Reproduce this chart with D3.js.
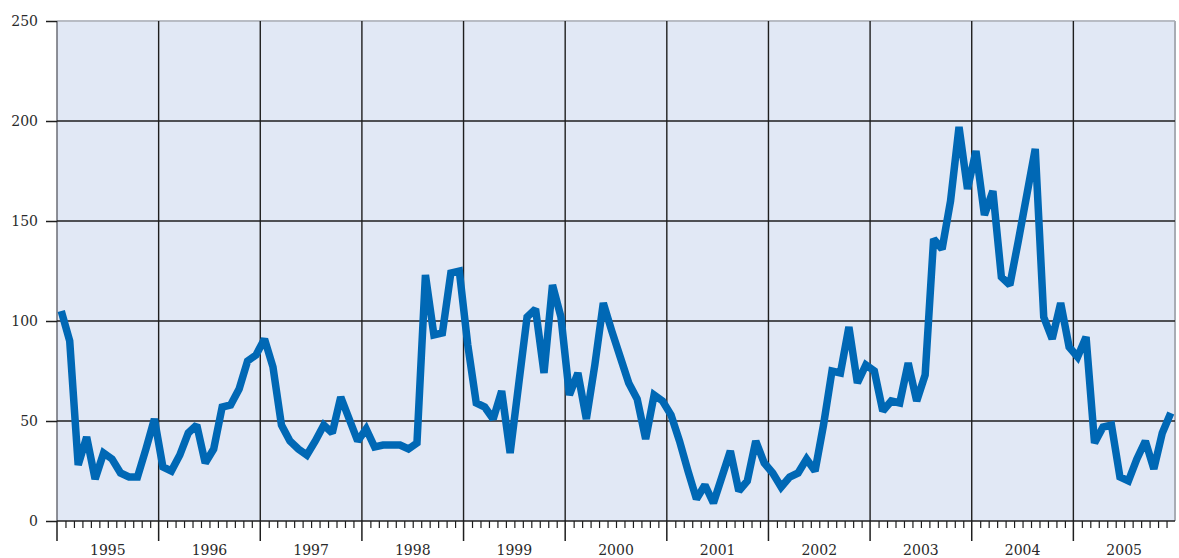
<!DOCTYPE html>
<html>
<head>
<meta charset="utf-8">
<script src="https://cdn.jsdelivr.net/npm/d3@7"></script>
<style>
  body { margin: 0; background: #fff; }
  text { font-family: "DejaVu Serif", serif; }
</style>
</head>
<body>
<svg id="chart"></svg>
<script>
// Data (monthly, Jan 1995 - Dec 2005)
const years = [1995, 1996, 1997, 1998, 1999, 2000, 2001, 2002, 2003, 2004, 2005];
const yTicks = [0, 50, 100, 150, 200, 250];
const values = [
  105, 90, 28, 42, 21, 34, 31, 24, 22, 22, 36, 51,      // 1995
  27, 25, 33, 44, 48, 29, 36, 57, 58, 66, 80, 83,       // 1996
  91, 77, 48, 40, 36, 33, 40, 48, 44, 62, 51, 40,       // 1997
  46, 37, 38, 38, 38, 36, 39, 123, 93, 94, 124, 125,    // 1998
  88, 59, 57, 51, 65, 34, 68, 102, 106, 74, 118, 102,   // 1999
  63, 74, 51, 78, 109, 95, 82, 69, 61, 41, 63, 60,      // 2000
  53, 40, 25, 11, 18, 9, 22, 35, 15, 20, 40, 29,        // 2001
  24, 17, 22, 24, 31, 25, 48, 75, 74, 97, 69, 78,       // 2002
  75, 55, 60, 59, 79, 60, 73, 141, 136, 160, 197, 166,  // 2003
  185, 153, 165, 122, 118, 140, 163, 186, 102, 91, 109, 87, // 2004
  82, 92, 39, 47, 48, 22, 20, 31, 40, 26, 44, 54        // 2005
];

// Dimensions
const W = 1179, H = 558;
const m = {left: 57, right: 4, top: 21, bottom: 37};
const nMonths = years.length * 12;

const svg = d3.select("#chart").attr("width", W).attr("height", H);

const x = d3.scaleLinear().domain([0, nMonths]).range([m.left, W - m.right]);
const y = d3.scaleLinear().domain([0, 250]).range([H - m.bottom, m.top]);

// plot background
svg.append("rect")
   .attr("x", x(0)).attr("y", y(250))
   .attr("width", x(nMonths) - x(0)).attr("height", y(0) - y(250))
   .attr("fill", "#e1e8f5");

// borders top/right/left
svg.append("line").attr("x1", x(0)).attr("x2", x(nMonths)).attr("y1", y(250)).attr("y2", y(250))
   .attr("stroke", "#b8bcc4").attr("stroke-width", 2);
svg.append("line").attr("x1", x(nMonths)).attr("x2", x(nMonths)).attr("y1", y(250)).attr("y2", y(0))
   .attr("stroke", "#a8acb4").attr("stroke-width", 2);
svg.append("line").attr("x1", x(0)).attr("x2", x(0)).attr("y1", y(250)).attr("y2", y(0))
   .attr("stroke", "#6a6d75").attr("stroke-width", 1.5);

// horizontal grid
svg.append("g").selectAll("line")
   .data(yTicks.filter(d => d > 0 && d < 250))
   .enter().append("line")
   .attr("x1", x(0)).attr("x2", x(nMonths))
   .attr("y1", d => y(d)).attr("y2", d => y(d))
   .attr("stroke", "#1e1e1e").attr("stroke-width", 1.4);

// vertical year grid
svg.append("g").selectAll("line")
   .data(d3.range(1, years.length))
   .enter().append("line")
   .attr("x1", d => x(d * 12)).attr("x2", d => x(d * 12))
   .attr("y1", y(250)).attr("y2", y(0))
   .attr("stroke", "#1e1e1e").attr("stroke-width", 1.4);

// y axis
const yAxis = svg.append("g")
   .attr("transform", `translate(${m.left},0)`)
   .call(d3.axisLeft(y).tickValues(yTicks).tickSize(11).tickPadding(8));
yAxis.select(".domain").remove();
yAxis.selectAll(".tick line").attr("stroke", "#1e1e1e").attr("stroke-width", 1.5);
yAxis.selectAll(".tick text").attr("font-size", 14).attr("fill", "#2a2a2a")
   .style("font-family", "DejaVu Serif, serif");

// x axis: month ticks
const xAxis = svg.append("g")
   .attr("transform", `translate(0,${y(0)})`)
   .call(d3.axisBottom(x).tickValues(d3.range(0, nMonths).filter(d => d % 12 !== 0)).tickSize(7).tickFormat(""));
xAxis.select(".domain").attr("stroke", "#1e1e1e").attr("stroke-width", 1.5).attr("d", `M${x(0)},0H${x(nMonths)}`);
xAxis.selectAll(".tick line").attr("stroke", "#1e1e1e").attr("stroke-width", 1.2);

// year ticks
svg.append("g").selectAll("line")
   .data(d3.range(0, years.length))
   .enter().append("line")
   .attr("x1", d => x(d * 12)).attr("x2", d => x(d * 12))
   .attr("y1", y(0)).attr("y2", y(0) + 20)
   .attr("stroke", "#1e1e1e").attr("stroke-width", 1.5);

// year labels
svg.append("g").selectAll("text")
   .data(years)
   .enter().append("text")
   .attr("x", (d, i) => x(i * 12 + 6))
   .attr("y", H - 3)
   .attr("text-anchor", "middle")
   .attr("font-size", 14)
   .attr("fill", "#2a2a2a")
   .text(d => d);

// the line
const line = d3.line()
   .x((d, i) => x(i + 0.5))
   .y(d => y(d));

svg.append("path")
   .datum(values)
   .attr("d", line)
   .attr("fill", "none")
   .attr("stroke", "#0068b5")
   .attr("stroke-width", 7.5)
   .attr("stroke-linejoin", "miter")
   .attr("stroke-miterlimit", 2);
</script>
</body>
</html>
